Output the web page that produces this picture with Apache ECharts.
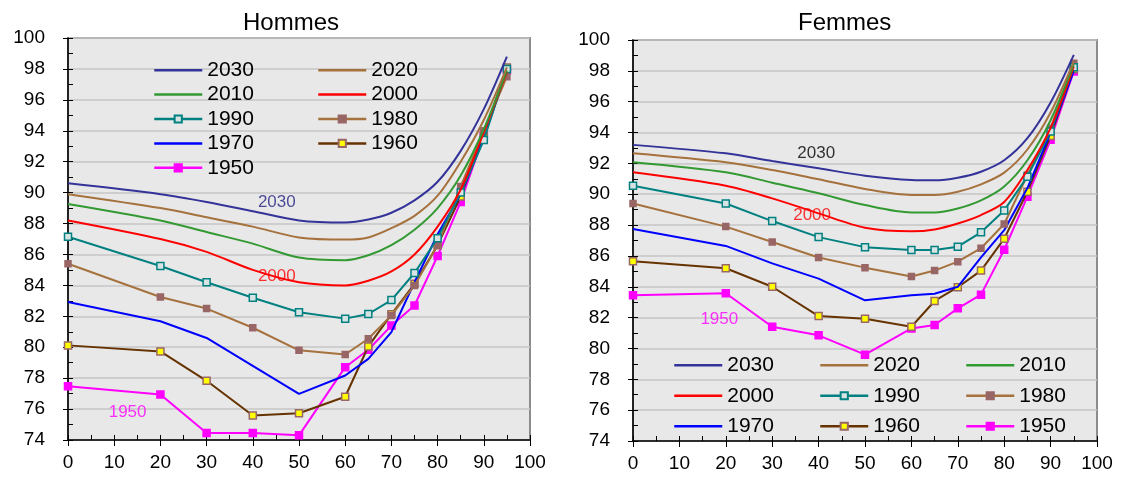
<!DOCTYPE html>
<html>
<head>
<meta charset="utf-8">
<script src="https://cdn.jsdelivr.net/npm/echarts@6/dist/echarts.min.js"></script>
<style>
html, body { margin: 0; padding: 0; background: #fff; }
#main { width: 1130px; height: 479px; }
</style>
</head>
<body>
<div id="main"></div>
<script>
var ages = [0, 20, 30, 40, 50, 60, 65, 70, 75, 80, 85, 90, 95];
var years = ['2030', '2020', '2010', '2000', '1990', '1980', '1970', '1960', '1950'];

// Hommes
var hommes2030 = [90.6, 89.9, 89.4, 88.8, 88.2, 88.07, 88.26, 88.7, 89.5, 90.7, 92.7, 95.4, 98.8];
var hommes2020 = [89.9, 89.0, 88.4, 87.8, 87.1, 86.96, 87.1, 87.7, 88.5, 89.8, 92.0, 94.7, 98.1];
var hommes2010 = [89.27, 88.2, 87.45, 86.7, 85.8, 85.63, 85.95, 86.6, 87.6, 89.0, 91.1, 94.1, 97.9];
var hommes2000 = [88.2, 87.0, 86.17, 85.0, 84.2, 84.0, 84.3, 84.9, 86.0, 87.8, 90.2, 93.9, 97.8];
var hommes1990 = [87.15, 85.25, 84.2, 83.2, 82.26, 81.85, 82.15, 83.05, 84.8, 87.05, 90.0, 93.4, 98.0];
var hommes1980 = [85.4, 83.25, 82.5, 81.26, 79.8, 79.53, 80.55, 82.06, 84.0, 86.6, 90.4, 94.0, 97.5];
var hommes1970 = [82.93, 81.68, 80.6, 78.8, 76.98, 78.17, 79.25, 80.98, 84.2, 87.3, 89.9, 93.5, 98.0];
var hommes1960 = [80.12, 79.73, 77.83, 75.58, 75.73, 76.8, 80.05, 82.13, 84.1, 86.6, 89.75, 93.7, 98.1];
var hommes1950 = [77.48, 76.94, 74.45, 74.45, 74.3, 78.71, 79.84, 81.4, 82.7, 85.9, 89.4, 93.68, 97.9];

// Femmes
var femmes2030 = [93.2, 92.65, 92.15, 91.68, 91.2, 90.92, 90.9, 91.07, 91.46, 92.2, 93.63, 95.95, 99.04];
var femmes2020 = [92.65, 92.07, 91.57, 90.97, 90.34, 89.95, 89.95, 90.16, 90.64, 91.4, 92.9, 95.3, 98.6];
var femmes2010 = [92.07, 91.42, 90.75, 90.06, 89.3, 88.82, 88.82, 89.08, 89.6, 90.5, 92.2, 94.8, 98.43];
var femmes2000 = [91.42, 90.55, 89.73, 88.76, 87.83, 87.6, 87.72, 88.1, 88.65, 89.5, 91.57, 94.3, 98.28];
var femmes1990 = [90.55, 89.4, 88.26, 87.22, 86.57, 86.38, 86.38, 86.6, 87.53, 88.95, 91.14, 94.06, 98.24];
var femmes1980 = [89.4, 87.9, 86.9, 85.9, 85.24, 84.66, 85.05, 85.63, 86.5, 88.07, 91.25, 94.28, 98.5];
var femmes1970 = [87.74, 86.65, 85.52, 84.53, 83.12, 83.45, 83.55, 84.0, 85.9, 87.67, 90.4, 94.0, 98.0];
var femmes1960 = [85.65, 85.2, 84.0, 82.1, 81.93, 81.41, 83.08, 83.97, 85.05, 87.12, 90.16, 93.78, 98.1];
var femmes1950 = [83.45, 83.58, 81.41, 80.85, 79.6, 81.3, 81.52, 82.6, 83.49, 86.4, 89.84, 93.53, 97.96];

var hommes = [hommes2030, hommes2020, hommes2010, hommes2000, hommes1990, hommes1980, hommes1970, hommes1960, hommes1950];
var femmes = [femmes2030, femmes2020, femmes2010, femmes2000, femmes1990, femmes1980, femmes1970, femmes1960, femmes1950];

// text notes on the plots: [age, value, text]
var hommesNotes = [[45.2, 89.36, '2030'], [45.2, 84.6, '2000'], [12.9, 75.77, '1950']];
var femmesNotes = [[39.5, 92.63, '2030'], [38.6, 88.63, '2000'], [18.6, 81.9, '1950']];

var FONT = '"Liberation Sans", Arial, sans-serif';

// line / marker look per year
var styles = {
    '2030': { line: '#333399', smooth: true },
    '2020': { line: '#a5713d', smooth: true },
    '2010': { line: '#339933', smooth: true },
    '2000': { line: '#ff0000', smooth: true },
    '1990': { line: '#008080', symbol: 'rect', size: 7, fill: '#d8e4e4', border: '#008080' },
    '1980': { line: '#a5713d', symbol: 'rect', size: 6, fill: '#996666', border: '#996666' },
    '1970': { line: '#0000ff' },
    '1960': { line: '#663300', symbol: 'rect', size: 7, fill: '#ffff00', border: '#996666' },
    '1950': { line: '#ff00ff', symbol: 'rect', size: 7, fill: '#ff00ff', border: '#ff00ff' }
};
var noteColors = {
    left: { '2030': '#1f1f80', '2000': '#ff0000', '1950': '#ff00ff' },
    right: { '2030': '#000000', '2000': '#ff0000', '1950': '#ff00ff' }
};

function pairs(vals) {
    return ages.map(function (a, i) { return [a, vals[i]]; });
}

function buildSeries(sets, gridIdx) {
    return sets.map(function (vals, k) {
        var st = styles[years[k]];
        return {
            name: years[k],
            type: 'line',
            xAxisIndex: gridIdx * 2,
            yAxisIndex: gridIdx * 2,
            data: pairs(vals),
            smooth: st.smooth ? 0.3 : false,
            symbol: st.symbol || 'none',
            symbolSize: st.size || 0,
            showSymbol: !!st.symbol,
            silent: true,
            z: 10 - k,
            lineStyle: { color: st.line, width: 2 },
            itemStyle: {
                color: st.fill || st.line,
                borderColor: st.border || st.line,
                borderWidth: 1.5
            }
        };
    });
}

function noteSeries(notes, gridIdx, side) {
    return {
        type: 'scatter',
        xAxisIndex: gridIdx * 2,
        yAxisIndex: gridIdx * 2,
        symbolSize: 0,
        silent: true,
        z: 20,
        data: notes.map(function (n) {
            return {
                value: [n[0], n[1]],
                label: { color: noteColors[side][n[2]] }
            };
        }),
        label: {
            show: true,
            position: 'inside',
            fontFamily: FONT,
            fontSize: 17,
            formatter: function (p) { return notes[p.dataIndex][2]; }
        }
    };
}

function axesFor(gridIdx) {
    var x = [{
        type: 'value', gridIndex: gridIdx, min: 0, max: 100, interval: 10,
        axisLine: { show: true, onZero: false, lineStyle: { color: '#000', width: 1.5 } },
        axisTick: { show: true, length: 6, lineStyle: { color: '#000' } },
        axisLabel: { fontFamily: FONT, fontSize: 19, color: '#000', margin: 13 },
        splitLine: { show: false }
    }, {
        type: 'value', gridIndex: gridIdx, min: 0, max: 100, interval: 5, position: 'bottom',
        axisLine: { show: false },
        axisTick: { show: true, inside: true, length: 5, lineStyle: { color: '#000' } },
        axisLabel: { show: false },
        splitLine: { show: false }
    }];
    var y = [{
        type: 'value', gridIndex: gridIdx, min: 74, max: 100, interval: 2,
        axisLine: { show: true, onZero: false, lineStyle: { color: '#000', width: 1.5 } },
        axisTick: { show: true, length: 5, lineStyle: { color: '#000' } },
        axisLabel: { fontFamily: FONT, fontSize: 19, color: '#000', margin: 23 },
        splitLine: { show: true, lineStyle: { color: '#c6c6c6', width: 1.5 } }
    }, {
        type: 'value', gridIndex: gridIdx, min: 74, max: 100, interval: 1, position: 'left',
        axisLine: { show: false },
        axisTick: { show: true, inside: true, length: 5, lineStyle: { color: '#000' } },
        axisLabel: { show: false },
        splitLine: { show: false }
    }];
    return { x: x, y: y };
}

function legendCol(names, left, top, rowH) {
    return {
        data: names.map(function (n) {
            // years drawn without markers get a plain line in the legend
            return styles[n].symbol ? n : { name: n, itemStyle: { opacity: 0 } };
        }),
        orient: 'vertical',
        left: left,
        top: top,
        padding: 0,
        itemWidth: 48,
        itemHeight: 9,
        itemGap: 0,
        selectedMode: false,
        lineStyle: { width: 2.5 },
        textStyle: { fontFamily: FONT, fontSize: 21, color: '#000', lineHeight: rowH }
    };
}

var myChart = echarts.init(document.getElementById('main'));
var a0 = axesFor(0), a1 = axesFor(1);

var option = {
    animation: false,
    backgroundColor: '#fff',
    title: [
        { text: 'Hommes', left: 238, top: 6, textStyle: { fontFamily: FONT, fontSize: 24, fontWeight: 'normal', color: '#000' } },
        { text: 'Femmes', left: 793, top: 6, textStyle: { fontFamily: FONT, fontSize: 24, fontWeight: 'normal', color: '#000' } }
    ],
    grid: [
        { left: 68, top: 38, width: 462, height: 402, show: true, backgroundColor: '#e8e8e8', borderColor: '#8c8c8c', borderWidth: 2 },
        { left: 633, top: 40, width: 464, height: 401, show: true, backgroundColor: '#e8e8e8', borderColor: '#8c8c8c', borderWidth: 2 }
    ],
    xAxis: a0.x.concat(a1.x),
    yAxis: a0.y.concat(a1.y),
    legend: [
        legendCol(['2030', '2010', '1990', '1970', '1950'], 153, 58, 24.4),
        legendCol(['2020', '2000', '1980', '1960'], 317, 58, 24.4),
        legendCol(['2030', '2000', '1970'], 673, 350, 30.5),
        legendCol(['2020', '1990', '1960'], 819, 350, 30.5),
        legendCol(['2010', '1980', '1950'], 965, 350, 30.5)
    ],
    series: buildSeries(hommes, 0)
        .concat(buildSeries(femmes, 1))
        .concat([noteSeries(hommesNotes, 0, 'left'), noteSeries(femmesNotes, 1, 'right')])
};

myChart.setOption(option);
</script>
</body>
</html>
